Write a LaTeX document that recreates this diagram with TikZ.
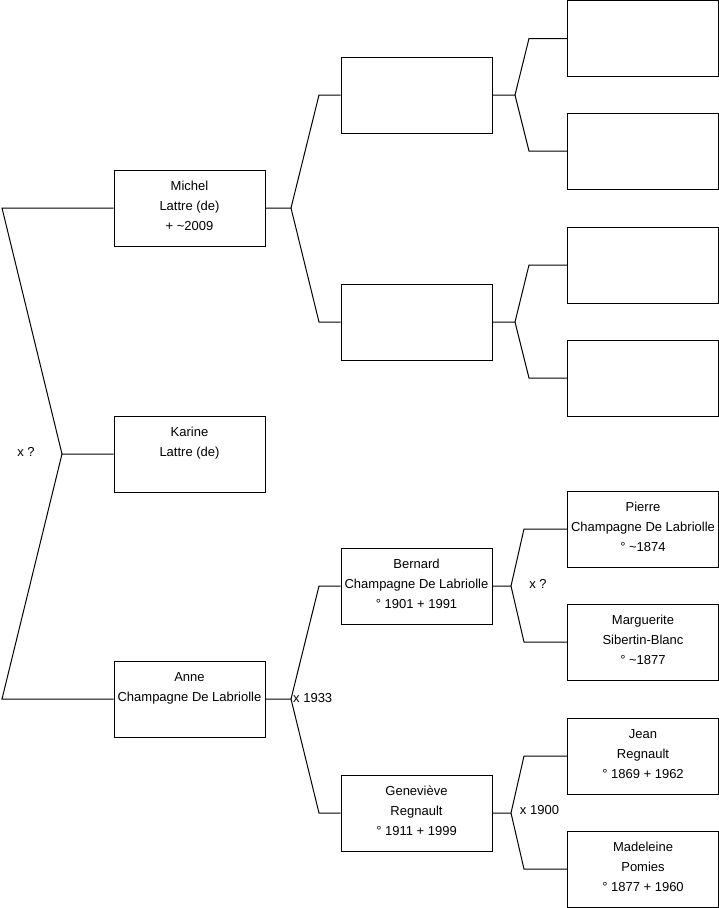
\documentclass[tikz,border=0pt]{standalone}
\usepackage{fontspec}
\setmainfont{Liberation Sans}
\usepackage{tikz}

\begin{document}
\begin{tikzpicture}[x=1pt,y=-1pt,
  person/.style={draw,line width=1pt,minimum width=151pt,minimum height=76pt,
    inner xsep=2pt,align=center,text depth=4pt,font=\fontsize{13}{20}\selectfont},
  link/.style={line width=1pt},
  wed/.style={inner sep=0pt,font=\fontsize{13}{20}\selectfont}]
\useasboundingbox (0,0) rectangle (719,908);
% generation 1
\node[person] (michel) at (189.5,208) {Michel\\Lattre (de)\\+ \textasciitilde2009};
\node[person] (karine) at (189.5,454) {Karine\\Lattre (de)\\\mbox{}};
\node[person] (anne) at (189.5,699) {Anne\\Champagne De Labriolle\\\mbox{}};
% generation 2
\node[person] (fmichel) at (416.5,95) {};
\node[person] (mmichel) at (416.5,322) {};
\node[person] (bernard) at (416.5,586) {Bernard\\Champagne De Labriolle\\\textdegree{} 1901 + 1991};
\node[person] (genevieve) at (416.5,813) {Geneviève\\Regnault\\\textdegree{} 1911 + 1999};
% generation 3
\node[person] (ffmichel) at (643,38.5) {};
\node[person] (mfmichel) at (643,151) {};
\node[person] (fmmichel) at (643,265) {};
\node[person] (mmmichel) at (643,378) {};
\node[person] (pierre) at (643,529) {Pierre\\Champagne De Labriolle\\\textdegree{} \textasciitilde1874};
\node[person] (marguerite) at (643,642) {Marguerite\\Sibertin-Blanc\\\textdegree{} \textasciitilde1877};
\node[person] (jean) at (643,756) {Jean\\Regnault\\\textdegree{} 1869 + 1962};
\node[person] (madeleine) at (643,869) {Madeleine\\Pomies\\\textdegree{} 1877 + 1960};

% left bracket
\coordinate (lt) at (2,208);
\coordinate (lb) at (2,699);
\coordinate (jk) at (62,454);
\draw[link] (michel.west) -- (lt) -- (jk) -- (karine.west);
\draw[link] (jk) -- (lb) -- (anne.west);
\node[wed] (wedk) at (26,452) {x ?};

% parents of Michel
\coordinate (jm) at (291,208);
\coordinate (jm1) at (319,95);
\coordinate (jm2) at (319,322);
\draw[link] (michel.east) -- (jm) -- (jm1) -- (fmichel.west);
\draw[link] (jm) -- (jm2) -- (mmichel.west);

% parents of Anne
\coordinate (ja) at (291,699);
\coordinate (ja1) at (319,586);
\coordinate (ja2) at (319,813);
\draw[link] (anne.east) -- (ja) -- (ja1) -- (bernard.west);
\draw[link] (ja) -- (ja2) -- (genevieve.west);
\node[wed,anchor=west] (weda) at (293,698) {x 1933};

% grandparents
\coordinate (jf) at (515,95);
\coordinate (jf1) at (529,38.5);
\coordinate (jf2) at (529,151);
\draw[link] (fmichel.east) -- (jf) -- (jf1) -- (ffmichel.west);
\draw[link] (jf) -- (jf2) -- (mfmichel.west);
\coordinate (jmm) at (515,322);
\coordinate (jmm1) at (529,265);
\coordinate (jmm2) at (529,378);
\draw[link] (mmichel.east) -- (jmm) -- (jmm1) -- (fmmichel.west);
\draw[link] (jmm) -- (jmm2) -- (mmmichel.west);
\coordinate (jb) at (511,586);
\coordinate (jb1) at (524,529);
\coordinate (jb2) at (524,642);
\draw[link] (bernard.east) -- (jb) -- (jb1) -- (pierre.west);
\draw[link] (jb) -- (jb2) -- (marguerite.west);
\node[wed] (wedb) at (538,584) {x ?};
\coordinate (jg) at (511,813);
\coordinate (jg1) at (524,756);
\coordinate (jg2) at (524,869);
\draw[link] (genevieve.east) -- (jg) -- (jg1) -- (jean.west);
\draw[link] (jg) -- (jg2) -- (madeleine.west);
\node[wed] (wedg) at (539.5,810.5) {x 1900};
\end{tikzpicture}
\end{document}
